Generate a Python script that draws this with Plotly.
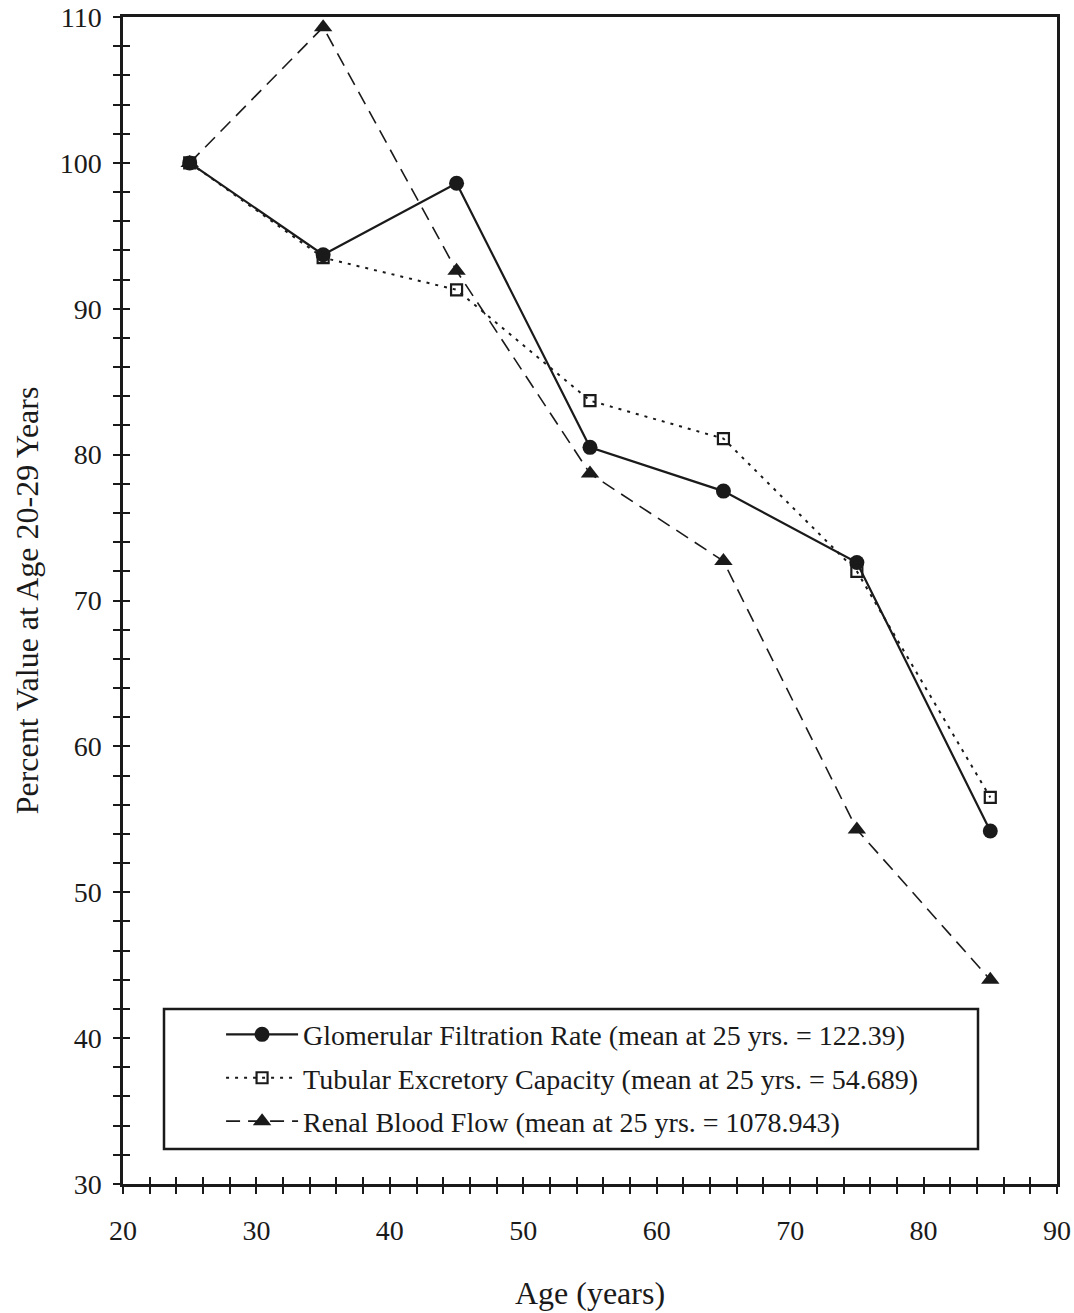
import plotly.graph_objects as go

# Age midpoints of each decade group (years)
ages = [25, 35, 45, 55, 65, 75, 85]

# Percent of the value measured at age 20-29
gfr = [100.0, 93.7, 98.6, 80.5, 77.5, 72.6, 54.2]
tubular = [100.0, 93.5, 91.3, 83.7, 81.1, 72.0, 56.5]
renal_flow = [100.0, 109.3, 92.6, 78.7, 72.7, 54.3, 44.0]

series_names = [
    "Glomerular Filtration Rate (mean at 25 yrs. = 122.39)",
    "Tubular Excretory Capacity (mean at 25 yrs. = 54.689)",
    "Renal Blood Flow (mean at 25 yrs. = 1078.943)",
]

x_range = [20, 90]
y_range = [30, 110]
x_ticks = [20, 30, 40, 50, 60, 70, 80, 90]
y_ticks = [30, 40, 50, 60, 70, 80, 90, 100, 110]

FONT = "Liberation Serif"
INK = "#1a1a1a"

fig = go.Figure()

fig.add_trace(go.Scatter(
    x=ages, y=gfr, name=series_names[0], mode="lines+markers",
    line=dict(color=INK, width=2.2),
    marker=dict(symbol="circle", size=15, color=INK),
    legendgroup="g1",
))
fig.add_trace(go.Scatter(
    x=ages, y=tubular, name=series_names[1], mode="lines+markers",
    line=dict(color=INK, width=2, dash="3px,6px"),
    marker=dict(symbol="square-open", size=11, color=INK, line=dict(width=2.2, color=INK)),
    legendgroup="g2",
))
fig.add_trace(go.Scatter(
    x=ages, y=renal_flow, name=series_names[2], mode="lines+markers",
    line=dict(color=INK, width=1.6, dash="14px,8px"),
    marker=dict(symbol="triangle-up", size=16, color=INK),
    legendgroup="g3",
))

# Invisible trace that activates the overlay axes carrying the inner half of the ticks
fig.add_trace(go.Scatter(
    x=ages, y=gfr, xaxis="x2", yaxis="y2", mode="markers",
    marker=dict(opacity=0), showlegend=False, hoverinfo="skip",
))

tick_common = dict(ticklen=7, tickwidth=2, tickcolor=INK)
minor_out = dict(dtick=2, ticks="outside", ticklen=7, tickwidth=2, tickcolor=INK, showgrid=False)
minor_in = dict(dtick=2, ticks="inside", ticklen=7, tickwidth=2, tickcolor=INK, showgrid=False)

fig.update_layout(
    width=1074, height=1313,
    margin=dict(l=123, r=17, t=17, b=129),
    paper_bgcolor="white", plot_bgcolor="white",
    font=dict(family=FONT, color=INK),
    showlegend=True,
    legend=dict(
        x=0.105, y=0.1494, xanchor="left", yanchor="top",
        bgcolor="rgba(0,0,0,0)", borderwidth=0,
        font=dict(family=FONT, size=28, color=INK),
        itemwidth=72, traceorder="grouped", tracegroupgap=4,
    ),
    xaxis=dict(
        range=x_range, tickvals=x_ticks, showgrid=False, zeroline=False,
        showline=True, linecolor=INK, linewidth=2.5, mirror=True,
        ticks="outside", **tick_common, minor=minor_out, automargin=False,
        tickfont=dict(family=FONT, size=28, color=INK), ticklabelstandoff=13,
        title=dict(text="Age (years)", font=dict(family=FONT, size=32, color=INK), standoff=37),
    ),
    yaxis=dict(
        range=y_range, tickvals=y_ticks, showgrid=False, zeroline=False,
        showline=True, linecolor=INK, linewidth=2.5, mirror=True,
        ticks="outside", **tick_common, minor=minor_out, automargin=False,
        tickfont=dict(family=FONT, size=28, color=INK), ticklabelstandoff=6,
        title=dict(text="Percent Value at Age 20-29 Years", font=dict(family=FONT, size=32, color=INK), standoff=12),
    ),
    xaxis2=dict(
        range=x_range, tickvals=x_ticks, overlaying="x", anchor="y2",
        showgrid=False, zeroline=False, showline=False, showticklabels=False,
        ticks="inside", **tick_common, minor=minor_in, automargin=False,
    ),
    yaxis2=dict(
        range=y_range, tickvals=y_ticks, overlaying="y", anchor="x2",
        showgrid=False, zeroline=False, showline=False, showticklabels=False,
        ticks="inside", **tick_common, minor=minor_in, automargin=False,
    ),
    shapes=[dict(
        type="rect", xref="paper", yref="paper",
        x0=(164 - 123) / 934, x1=(978 - 123) / 934,
        y0=(1184 - 1149) / 1167, y1=(1184 - 1009) / 1167,
        line=dict(color=INK, width=2.5), fillcolor="rgba(0,0,0,0)", layer="below",
    )],
)

fig.write_html("out.html")
